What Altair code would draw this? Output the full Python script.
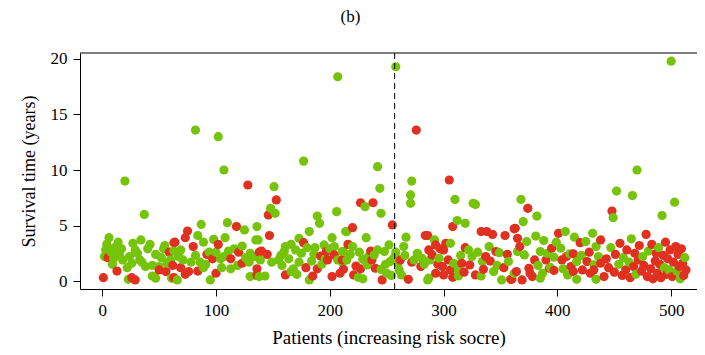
import altair as alt
import pandas as pd

# (patient index, survival time in years, status: G = alive/green, R = dead/red)
seg_000_064 = [
    (20, 9.0, "G"), (37, 6.0, "G"), (6, 3.9, "G"), (14, 3.5, "G"), (34, 3.7, "G"), (40, 2.9, "G"),
    (55, 3.2, "G"), (63, 3.45, "R"), (3, 2.8, "G"), (2, 2.2, "G"), (5, 2.1, "R"), (15, 2.4, "G"),
    (18, 1.9, "G"), (29, 2.8, "G"), (26, 1.6, "G"), (22, 1.2, "G"), (35, 1.7, "G"), (47, 2.4, "G"),
    (44, 1.4, "G"), (50, 1.3, "G"), (60, 1.9, "G"), (50, 1.0, "R"), (56, 0.85, "R"), (44, 0.45, "G"),
    (47, 0.25, "G"), (1, 0.3, "R"), (13, 0.9, "R"), (26, 0.3, "R"), (29, 0.1, "R"), (23, 0.15, "G"),
    (61, 0.25, "G"), (59, 2.6, "R"), (62, 1.4, "R"), (8, 2.6, "G"), (10, 2.0, "G"), (11, 3.0, "G"),
    (17, 2.9, "G"), (24, 2.2, "G"), (31, 2.5, "G"), (33, 1.9, "G"), (38, 1.3, "G"), (42, 3.3, "G"),
    (52, 2.1, "G"), (54, 2.9, "G"), (57, 1.6, "G"), (9, 1.5, "G"), (4, 3.3, "G"), (27, 3.4, "G"),
]
seg_060_139 = [
    (128, 8.65, "R"), (87, 5.1, "G"), (110, 5.25, "G"), (118, 4.9, "R"), (125, 4.6, "G"), (135, 3.7, "G"),
    (75, 4.5, "R"), (84, 4.1, "G"), (73, 3.9, "R"), (64, 3.5, "R"), (89, 3.5, "G"), (98, 3.75, "G"),
    (102, 3.3, "R"), (108, 3.9, "G"), (123, 3.15, "G"), (80, 3.1, "R"), (69, 2.8, "G"), (63, 2.7, "G"),
    (94, 2.6, "G"), (92, 2.4, "R"), (120, 2.6, "R"), (111, 2.7, "G"), (97, 2.0, "R"), (104, 2.0, "G"),
    (113, 2.0, "R"), (130, 2.5, "G"), (138, 2.6, "R"), (78, 1.7, "G"), (86, 1.7, "G"), (123, 1.6, "R"),
    (129, 1.7, "G"), (69, 1.2, "R"), (76, 0.85, "R"), (73, 0.6, "R"), (89, 1.2, "G"), (105, 1.2, "G"),
    (113, 1.1, "G"), (63, 0.3, "R"), (66, 0.1, "G"), (95, 0.1, "G"), (130, 0.4, "G"), (135, 0.5, "G"),
    (136, 1.1, "R"), (67, 2.2, "G"), (71, 1.9, "G"), (82, 2.3, "G"), (91, 1.5, "G"), (100, 2.6, "G"),
    (107, 2.2, "G"), (116, 2.9, "G"), (119, 1.4, "G"), (126, 2.1, "G"), (133, 2.2, "G"), (84, 0.9, "R"),
    (100, 0.7, "R"), (82, 13.6, "G"), (102, 13.0, "G"), (107, 10.0, "G"),
]
seg_135_214 = [
    (151, 8.5, "G"), (153, 7.3, "R"), (148, 6.55, "G"), (146, 5.95, "R"), (152, 6.1, "G"), (189, 5.85, "G"),
    (206, 6.25, "G"), (191, 5.2, "G"), (182, 4.45, "G"), (147, 4.1, "R"), (136, 4.9, "G"), (137, 3.7, "G"),
    (214, 4.45, "G"), (173, 3.85, "G"), (177, 3.45, "R"), (166, 3.3, "G"), (161, 3.1, "G"), (202, 3.9, "G"),
    (195, 3.25, "G"), (140, 2.7, "R"), (145, 2.4, "R"), (160, 2.65, "G"), (170, 2.8, "G"), (186, 2.4, "G"),
    (192, 2.25, "R"), (197, 2.65, "R"), (204, 3.1, "G"), (204, 2.35, "R"), (212, 2.65, "G"), (139, 1.9, "G"),
    (149, 1.7, "G"), (155, 1.9, "G"), (173, 1.7, "G"), (196, 2.0, "G"), (198, 1.9, "R"), (207, 1.9, "G"),
    (211, 1.7, "G"), (179, 1.2, "R"), (189, 1.1, "R"), (168, 1.1, "G"), (166, 0.85, "G"), (136, 0.55, "R"),
    (138, 0.4, "G"), (143, 0.45, "G"), (161, 0.55, "R"), (182, 0.1, "G"), (185, 0.45, "R"), (202, 0.4, "R"),
    (209, 0.7, "R"), (157, 2.3, "G"), (164, 2.0, "G"), (175, 2.5, "G"), (180, 3.0, "G"), (184, 1.8, "G"),
    (200, 2.9, "G"), (158, 1.4, "G"), (193, 1.5, "G"), (171, 0.6, "G"), (187, 3.0, "G"),
    (177, 10.8, "G"), (207, 18.4, "G"),
]
seg_209_288 = [
    (244, 8.35, "G"), (272, 9.0, "G"), (271, 7.75, "G"), (271, 7.0, "G"), (227, 7.05, "R"), (238, 7.05, "R"),
    (231, 6.7, "G"), (245, 6.1, "G"), (255, 5.05, "R"), (220, 4.8, "R"), (215, 4.45, "G"), (232, 3.9, "G"),
    (267, 3.95, "G"), (284, 4.1, "R"), (216, 3.3, "R"), (220, 3.1, "G"), (252, 3.25, "G"), (248, 2.65, "G"),
    (236, 2.7, "R"), (265, 3.1, "G"), (211, 2.65, "G"), (215, 1.9, "G"), (211, 1.9, "R"), (212, 1.05, "R"),
    (223, 1.35, "R"), (229, 1.95, "G"), (237, 1.9, "R"), (239, 2.35, "G"), (233, 1.45, "G"), (221, 0.55, "R"),
    (225, 0.33, "G"), (229, 0.2, "G"), (240, 1.15, "R"), (245, 1.05, "G"), (246, 0.1, "R"), (253, 1.75, "G"),
    (256, 2.05, "G"), (250, 0.7, "G"), (262, 1.9, "R"), (261, 1.0, "G"), (263, 0.55, "G"), (269, 0.15, "R"),
    (274, 1.9, "G"), (272, 1.7, "R"), (281, 2.05, "G"), (280, 1.3, "R"), (288, 1.9, "G"), (286, 0.1, "G"),
    (218, 2.4, "G"), (226, 2.6, "G"), (234, 2.2, "G"), (242, 2.8, "G"), (249, 1.5, "G"), (258, 2.6, "G"),
    (260, 1.6, "G"), (266, 2.3, "G"), (277, 2.5, "G"), (283, 1.5, "G"), (227, 1.1, "R"), (254, 0.5, "G"),
    (242, 10.3, "G"), (258, 19.3, "G"), (276, 13.6, "R"),
]
seg_284_363 = [
    (305, 9.1, "R"), (310, 7.35, "G"), (328, 6.9, "G"), (326, 7.0, "G"), (312, 5.45, "G"), (319, 5.2, "G"),
    (308, 4.9, "R"), (333, 4.45, "R"), (343, 4.2, "R"), (338, 4.45, "R"), (354, 4.1, "R"), (362, 4.7, "R"),
    (286, 4.1, "R"), (292, 3.7, "G"), (293, 3.25, "R"), (287, 2.8, "R"), (302, 3.4, "R"), (306, 3.4, "G"),
    (300, 2.8, "R"), (322, 2.8, "G"), (346, 2.65, "R"), (349, 2.55, "G"), (290, 2.35, "R"), (296, 2.05, "G"),
    (304, 1.9, "R"), (309, 1.6, "G"), (316, 1.6, "R"), (325, 2.2, "G"), (337, 2.2, "R"), (334, 1.75, "G"),
    (299, 1.3, "R"), (306, 1.0, "R"), (313, 1.0, "G"), (323, 1.45, "R"), (335, 1.05, "R"), (344, 0.85, "G"),
    (353, 1.2, "R"), (357, 1.75, "G"), (287, 0.25, "G"), (300, 0.55, "R"), (308, 0.33, "R"), (313, 0.45, "G"),
    (328, 0.55, "R"), (333, 0.45, "G"), (351, 0.1, "G"), (359, 0.15, "R"), (362, 0.7, "G"), (293, 0.7, "R"),
    (297, 2.9, "R"), (315, 2.3, "G"), (319, 3.0, "R"), (330, 2.6, "G"), (341, 1.8, "R"), (347, 1.4, "G"),
    (356, 2.4, "R"), (340, 3.1, "G"), (318, 0.8, "R"), (295, 1.5, "R"),
]
seg_359_442 = [
    (368, 7.35, "G"), (374, 6.55, "R"), (382, 5.85, "G"), (370, 5.35, "G"), (363, 4.75, "R"), (401, 4.3, "R"),
    (407, 4.45, "G"), (431, 4.3, "G"), (415, 3.95, "G"), (438, 3.7, "R"), (381, 4.05, "G"), (365, 3.85, "R"),
    (373, 3.55, "G"), (388, 3.65, "G"), (420, 3.45, "R"), (425, 3.55, "G"), (367, 3.1, "R"), (434, 3.1, "G"),
    (395, 2.95, "R"), (403, 2.95, "G"), (391, 2.5, "G"), (385, 2.65, "G"), (414, 2.45, "R"), (411, 2.45, "G"),
    (365, 2.65, "G"), (371, 2.35, "G"), (417, 1.75, "G"), (380, 1.9, "R"), (390, 1.9, "R"), (397, 2.15, "G"),
    (404, 1.9, "R"), (426, 1.75, "R"), (432, 1.45, "G"), (438, 1.6, "R"), (375, 1.15, "R"), (393, 1.15, "R"),
    (394, 1.2, "G"), (412, 1.3, "R"), (432, 1.0, "R"), (364, 0.85, "R"), (376, 0.7, "R"), (387, 0.7, "G"),
    (397, 0.95, "R"), (414, 0.85, "R"), (360, 0.15, "R"), (369, 0.1, "R"), (385, 0.25, "G"), (409, 0.55, "G"),
    (417, 0.15, "G"), (429, 0.7, "R"), (434, 0.15, "G"), (441, 0.4, "R"), (378, 0.4, "R"),
    (399, 3.5, "G"), (408, 2.2, "R"), (421, 2.3, "G"), (428, 2.6, "R"), (383, 1.4, "G"), (405, 1.1, "G"),
    (422, 1.0, "R"), (436, 2.2, "G"),
]
seg_442_513 = [
    (500, 19.8, "G"), (470, 10.0, "G"), (466, 7.7, "G"), (452, 8.1, "G"), (492, 5.9, "G"), (448, 6.3, "R"),
    (449, 5.7, "G"), (503, 7.1, "G"), (443, 2.0, "R"), (445, 1.2, "R"), (447, 3.0, "G"), (450, 0.8, "R"),
    (451, 2.4, "R"), (454, 1.5, "G"), (455, 3.4, "R"), (457, 0.5, "R"), (458, 2.1, "G"), (460, 1.0, "R"),
    (461, 2.8, "R"), (463, 1.7, "G"), (464, 0.3, "R"), (465, 3.8, "G"), (467, 1.3, "R"), (468, 2.5, "R"),
    (469, 0.6, "G"), (471, 1.9, "R"), (472, 3.2, "R"), (474, 0.9, "R"), (475, 2.2, "G"), (476, 1.4, "R"),
    (478, 4.2, "R"), (479, 0.4, "R"), (480, 2.7, "G"), (482, 1.1, "R"), (483, 3.3, "R"), (484, 0.2, "R"),
    (486, 1.8, "R"), (487, 2.5, "R"), (488, 0.7, "R"), (489, 3.0, "G"), (490, 1.5, "R"), (491, 0.3, "R"),
    (493, 2.3, "R"), (494, 1.2, "G"), (495, 3.5, "R"), (496, 0.6, "R"), (497, 2.0, "R"), (498, 1.0, "G"),
    (499, 2.8, "R"), (501, 0.4, "R"), (502, 1.7, "R"), (504, 3.1, "R"), (505, 0.9, "G"), (506, 2.4, "R"),
    (507, 1.3, "R"), (508, 0.2, "G"), (509, 2.9, "R"), (510, 1.6, "R"), (511, 0.5, "R"), (512, 2.1, "G"),
    (513, 1.0, "R"),
]

x_ticks = [0, 100, 200, 300, 400, 500]
y_ticks = [0, 5, 10, 15, 20]
cutoff = [257]

rows = seg_000_064 + seg_060_139 + seg_135_214 + seg_209_288 + seg_284_363 + seg_359_442 + seg_442_513
df = pd.DataFrame(rows, columns=["patient", "years", "status"]).sort_values("patient", kind="stable")
df_cut = pd.DataFrame({"cut": cutoff})

W, H = 617, 236
FONT = "Liberation Serif"
xs = alt.Scale(domain=[-19.5, 522.7], nice=False, zero=False)
ys = alt.Scale(domain=[-0.72, 20.54], nice=False, zero=False)

points = alt.Chart(df).mark_circle(size=85, opacity=1).encode(
    x=alt.X("patient:Q", scale=xs,
            axis=alt.Axis(values=x_ticks, title="Patients (increasing risk socre)", grid=False,
                          labelPadding=6, titlePadding=10, format="d", titleFontSize=19)),
    y=alt.Y("years:Q", scale=ys,
            axis=alt.Axis(values=y_ticks, title="Survival time (years)", grid=False,
                          labelPadding=6, titlePadding=12, format="d")),
    color=alt.Color("status:N", scale=alt.Scale(domain=["G", "R"], range=["#76C40A", "#DF3020"]), legend=None),
)

cut_line = alt.Chart(df_cut).mark_rule(color="black", strokeWidth=1, strokeDash=[6, 4]).encode(
    x=alt.X("cut:Q", scale=xs)
)

top_line = alt.Chart(df_cut).mark_rule(color="black", strokeWidth=1).encode(
    y=alt.value(0), x=alt.value(0), x2=alt.value(W + 10)
)

chart = alt.layer(points, cut_line, top_line).properties(
    width=W, height=H,
    title=alt.TitleParams("(b)", font=FONT, fontSize=17, fontWeight="normal", color="black",
                          anchor="middle", dx=-38, offset=24),
    autosize=alt.AutoSizeParams(type="none"),
    padding={"left": 72, "top": 45, "right": 0, "bottom": 60},
).configure_view(stroke=None).configure_axis(
    domainColor="black", tickColor="black", tickSize=7, domainWidth=1, tickWidth=1,
    labelFont=FONT, labelFontSize=17, labelColor="black",
    titleFont=FONT, titleFontSize=18, titleFontWeight="normal", titleColor="black",
)

chart.save("out.html", embed_options={"renderer": "svg", "actions": False})
